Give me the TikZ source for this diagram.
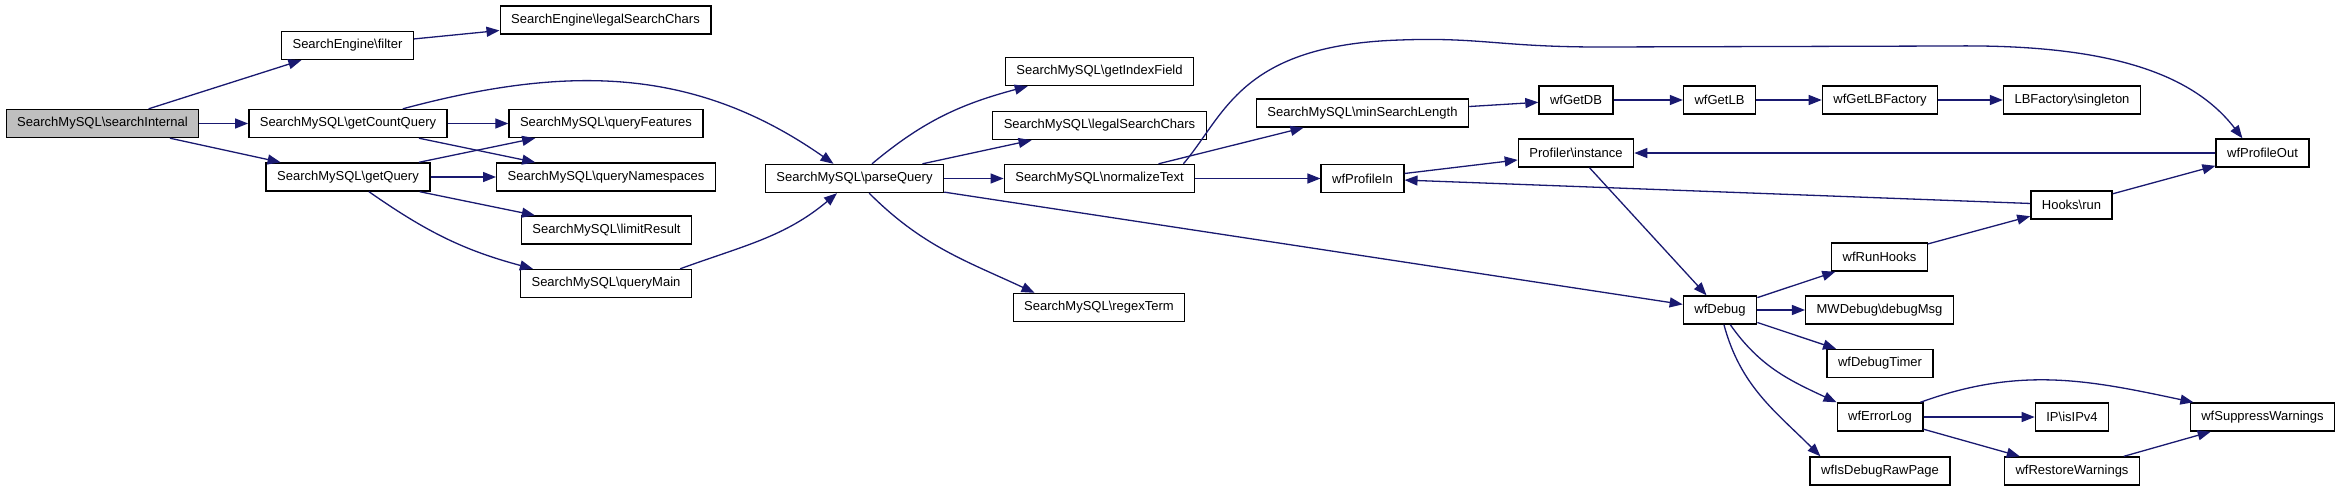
\documentclass[tikz,border=0pt]{standalone}
\usepackage{fontspec}
\setmainfont{Liberation Sans}
\usetikzlibrary{arrows.meta}
\definecolor{midnight}{HTML}{191970}

\begin{document}
\begin{tikzpicture}[x=1pt,y=-1pt,
    fn/.style={draw=black,line width=1.4pt,fill=white,minimum height=28pt,
      inner xsep=11pt,inner ysep=0pt,font=\fontsize{13}{15}\selectfont},
    call/.style={->,midnight,line width=1.3pt},
    >={Triangle[length=13pt,width=10pt]}]
  \useasboundingbox (0,0) rectangle (2341,491);
  \node[fn,fill=black!25] (searchInternal) at (102.5,123.5) {SearchMySQL\textbackslash searchInternal};
  \node[fn] (filter) at (347.5,45.5) {SearchEngine\textbackslash filter};
  \node[fn] (engineLegal) at (605.5,20) {SearchEngine\textbackslash legalSearchChars};
  \node[fn] (getCountQuery) at (348,123.5) {SearchMySQL\textbackslash getCountQuery};
  \node[fn] (queryFeatures) at (606,123.5) {SearchMySQL\textbackslash queryFeatures};
  \node[fn] (getQuery) at (348,177) {SearchMySQL\textbackslash getQuery};
  \node[fn] (queryNamespaces) at (606,177) {SearchMySQL\textbackslash queryNamespaces};
  \node[fn] (limitResult) at (606.5,230) {SearchMySQL\textbackslash limitResult};
  \node[fn] (queryMain) at (606,283.5) {SearchMySQL\textbackslash queryMain};
  \node[fn] (parseQuery) at (854.5,178.5) {SearchMySQL\textbackslash parseQuery};
  \node[fn] (getIndexField) at (1099.5,71.5) {SearchMySQL\textbackslash getIndexField};
  \node[fn] (legalSearchChars) at (1099.5,125.5) {SearchMySQL\textbackslash legalSearchChars};
  \node[fn] (normalizeText) at (1099.5,178.5) {SearchMySQL\textbackslash normalizeText};
  \node[fn] (regexTerm) at (1099,307.5) {SearchMySQL\textbackslash regexTerm};
  \node[fn] (minSearchLength) at (1362.5,113) {SearchMySQL\textbackslash minSearchLength};
  \node[fn] (wfProfileIn) at (1362.5,178.5) {wfProfileIn};
  \node[fn] (wfGetDB) at (1576,100) {wfGetDB};
  \node[fn] (wfGetLB) at (1719.5,100) {wfGetLB};
  \node[fn] (wfGetLBFactory) at (1880,100) {wfGetLBFactory};
  \node[fn] (singleton) at (2072,100) {LBFactory\textbackslash singleton};
  \node[fn] (profilerInstance) at (1576,153) {Profiler\textbackslash instance};
  \node[fn] (wfProfileOut) at (2262.5,153) {wfProfileOut};
  \node[fn] (hooksRun) at (2071.5,205) {Hooks\textbackslash run};
  \node[fn] (wfRunHooks) at (1879.5,257) {wfRunHooks};
  \node[fn] (wfDebug) at (1720,310) {wfDebug};
  \node[fn] (debugMsg) at (1879.5,310) {MWDebug\textbackslash debugMsg};
  \node[fn] (wfDebugTimer) at (1880,363.5) {wfDebugTimer};
  \node[fn] (wfErrorLog) at (1880,417) {wfErrorLog};
  \node[fn] (isIPv4) at (2072,417) {IP\textbackslash isIPv4};
  \node[fn] (wfSuppressWarnings) at (2262.5,417) {wfSuppressWarnings};
  \node[fn] (wfIsDebugRawPage) at (1880,471) {wfIsDebugRawPage};
  \node[fn] (wfRestoreWarnings) at (2072,471) {wfRestoreWarnings};

  \draw[call] (searchInternal) -- (filter);
  \draw[call] (searchInternal) -- (getCountQuery);
  \draw[call] (searchInternal) -- (getQuery);
  \draw[call] (filter) -- (engineLegal);
  \draw[call] (getCountQuery) -- (queryFeatures);
  \draw[call] (getCountQuery) -- (queryNamespaces);
  \draw[call] (getCountQuery) to[out=15,in=145] (parseQuery);
  \draw[call] (getQuery) -- (queryFeatures);
  \draw[call] (getQuery) -- (queryNamespaces);
  \draw[call] (getQuery) -- (limitResult);
  \draw[call] (getQuery) to[out=-35,in=165] ([xshift=13pt]queryMain.north west);
  \draw[call] ([xshift=-12pt]queryMain.north east) to[out=20,in=-140] (parseQuery);
  \draw[call] (parseQuery) to[out=40,in=195] ([xshift=23pt]getIndexField.south west);
  \draw[call] (parseQuery) -- (legalSearchChars);
  \draw[call] (parseQuery) -- (normalizeText);
  \draw[call] (parseQuery) to[out=-45,in=155] ([xshift=22pt]regexTerm.north west);
  \draw[call] (parseQuery) -- (wfDebug);
  \draw[call] (normalizeText) -- (minSearchLength);
  \draw[call] (normalizeText) -- (wfProfileIn);
  \draw[call] ([xshift=-12pt]normalizeText.north east) .. controls (1225,115) and (1240,45) .. (1400,40)
    .. controls (1480,37) and (1500,47) .. (1600,47) -- (1950,46)
    .. controls (2100,44) and (2190,70) .. ([xshift=27pt]wfProfileOut.north west);
  \draw[call] (minSearchLength) -- (wfGetDB);
  \draw[call] (wfGetDB) -- (wfGetLB);
  \draw[call] (wfGetLB) -- (wfGetLBFactory);
  \draw[call] (wfGetLBFactory) -- (singleton);
  \draw[call] (wfProfileIn) -- (profilerInstance);
  \draw[call] (profilerInstance) -- (wfDebug);
  \draw[call] (wfProfileOut) -- (profilerInstance);
  \draw[call] (hooksRun) -- (wfProfileIn);
  \draw[call] (hooksRun) -- (wfProfileOut);
  \draw[call] (wfRunHooks) -- (hooksRun);
  \draw[call] (wfDebug) -- (wfRunHooks);
  \draw[call] (wfDebug) -- (debugMsg);
  \draw[call] (wfDebug) -- (wfDebugTimer);
  \draw[call] (wfDebug) to[out=-55,in=155] (wfErrorLog.north west);
  \draw[call] (wfDebug) to[out=-75,in=135] ([xshift=11pt]wfIsDebugRawPage.north west);
  \draw[call] (wfErrorLog) to[out=20,in=168] (wfSuppressWarnings);
  \draw[call] (wfErrorLog) -- (isIPv4);
  \draw[call] (wfErrorLog) -- (wfRestoreWarnings);
  \draw[call] (wfRestoreWarnings) -- (wfSuppressWarnings);
\end{tikzpicture}
\end{document}
